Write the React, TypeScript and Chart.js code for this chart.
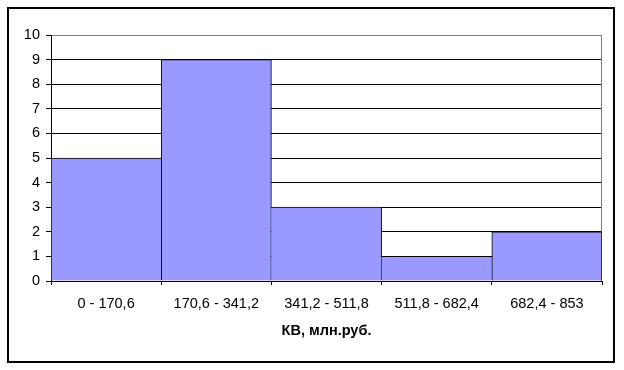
import React, { useEffect, useRef } from "react";
import { Chart, registerables } from "chart.js";

Chart.register(...registerables);

const categories = ["0 - 170,6", "170,6 - 341,2", "341,2 - 511,8", "511,8 - 682,4", "682,4 - 853"];
const frequencies = [5, 9, 3, 1, 2];
const yMin = 0;
const yMax = 10;
const yStep = 1;
const xAxisTitle = "КВ, млн.руб.";

const FONT = "'Liberation Sans', Arial, sans-serif";

const framePlugin = {
  id: "frame",
  beforeDraw(chart: any) {
    const ctx = chart.ctx;
    ctx.save();
    ctx.fillStyle = "#ffffff";
    ctx.fillRect(0, 0, chart.width, chart.height);
    ctx.strokeStyle = "#000000";
    ctx.lineWidth = 2;
    ctx.strokeRect(8, 8, 606, 354);
    ctx.restore();
  },
  beforeDatasetsDraw(chart: any) {
    const { ctx, chartArea } = chart;
    ctx.save();
    ctx.strokeStyle = "#808080";
    ctx.lineWidth = 1;
    ctx.beginPath();
    const x = Math.round(chartArea.right) - 0.5;
    ctx.moveTo(x, chartArea.top);
    ctx.lineTo(x, chartArea.bottom);
    ctx.stroke();
    ctx.restore();
  },
};

export default function App() {
  const ref = useRef<HTMLCanvasElement | null>(null);

  useEffect(() => {
    document.body.style.margin = "0";
    const canvas = ref.current;
    if (!canvas) return;
    const chart = new Chart(canvas, {
      type: "bar",
      data: {
        labels: categories,
        datasets: [
          {
            data: frequencies,
            backgroundColor: "#9999FF",
            borderColor: "#000000",
            borderWidth: (c: any) => {
              const i = c.dataIndex;
              const v = frequencies;
              const left = i === 0 || v[i] > v[i - 1] ? 1 : 0;
              const right = i === v.length - 1 || v[i] >= v[i + 1] ? 1 : 0;
              return { top: 1, left, right, bottom: 0 };
            },
            borderSkipped: false,
            barPercentage: 1,
            categoryPercentage: 1,
          },
        ],
      },
      options: {
        responsive: false,
        animation: false,
        devicePixelRatio: 1,
        layout: { padding: { left: 0, top: 35, right: 22, bottom: 30 } },
        plugins: {
          legend: { display: false },
          tooltip: { enabled: false },
          title: { display: false },
        },
        scales: {
          x: {
            afterFit: (s: any) => {
              s.height = 59;
            },
            grid: {
              display: true,
              drawOnChartArea: false,
              drawTicks: true,
              tickLength: 4,
              color: "#000000",
              offset: true,
            },
            border: { display: true, color: "#000000", width: 1 },
            ticks: {
              color: "#000000",
              font: { family: FONT, size: 14.5 },
              padding: 10,
              maxRotation: 0,
              autoSkip: false,
            },
            title: {
              display: true,
              text: xAxisTitle,
              color: "#000000",
              font: { family: FONT, size: 14.5, weight: "bold" },
              padding: 0,
            },
          },
          y: {
            min: yMin,
            max: yMax,
            afterFit: (s: any) => {
              s.width = 51;
            },
            grid: {
              color: (c: any) => (c.tick && c.tick.value === yMax ? "#808080" : "#000000"),
              tickColor: "#000000",
              tickLength: 5,
              drawTicks: true,
            },
            border: { display: true, color: "#000000", width: 1 },
            ticks: {
              stepSize: yStep,
              color: "#000000",
              font: { family: FONT, size: 14.5 },
              padding: 6,
            },
          },
        },
      },
      plugins: [framePlugin],
    });
    return () => chart.destroy();
  }, []);

  return <canvas ref={ref} width={624} height={370} style={{ display: "block" }} />;
}
